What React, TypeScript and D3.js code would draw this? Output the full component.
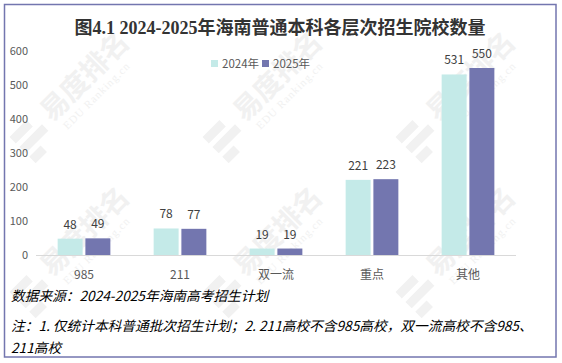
import * as d3 from 'd3';

// --- data ---
const categories = ['985', '211', '双一流', '重点', '其他'];
const series = ['2024年', '2025年'];
const values2024 = [48, 78, 19, 221, 531];
const values2025 = [49, 77, 19, 223, 550];
const yTicks = [0, 100, 200, 300, 400, 500, 600];

const W = 562;
const H = 363;
const colors = ['#c4eae8', '#7376af'];
const font = '"Noto Sans CJK SC", "Noto Sans", sans-serif';

// watermark anchor points (logo centres)
const marks = [
  [42, 130], [235, 130], [428, 130],
  [42, 285], [235, 285], [428, 285],
];

const Watermark = ({ x, y }: { x: number; y: number }) => (
  <g transform={`translate(${x},${y}) rotate(-45)`} fill="#f1f1f1">
    {/* "||" logo */}
    <rect x={-28} y={-18} width={24} height={9} />
    <rect x={-28} y={-4} width={32} height={9} />
    <rect x={-28} y={10} width={16} height={9} />
    <text x={12} y={2} fontSize={28} fontWeight={700} fontFamily={font}>易度排名</text>
    <text x={18} y={18} fontSize={11} fontFamily='"Liberation Serif", serif' letterSpacing={1}>EDU Ranking.cn</text>
  </g>
);

function App() {
  const x0 = d3.scaleBand<string>().domain(categories).range([36, 516]).paddingInner(0).paddingOuter(0);
  const x1 = d3.scaleBand<string>().domain(series).range([0, x0.bandwidth()]).paddingInner(0.1).paddingOuter(0.78);
  const y = d3.scaleLinear().domain([0, 600]).range([255, 51]);
  const data = [values2024, values2025];

  return (
    <svg width={W} height={H} style={{ position: 'absolute', left: 0, top: 0, background: '#fff' }}>
      <rect x={0} y={0} width={W} height={H} fill="#fff" />
      {marks.map(([mx, my], i) => <Watermark key={i} x={mx} y={my} />)}
      <rect x={4.5} y={4.5} width={551.5} height={352.5} fill="none" stroke="#7376af" strokeWidth={1.5} />

      <text x={280} y={34} textAnchor="middle" fontSize={18} fontWeight={700} fill="#333"
        fontFamily='"Liberation Serif", "Noto Sans CJK SC", serif'>图4.1 2024-2025年海南普通本科各层次招生院校数量</text>

      {/* legend */}
      {series.map((s, i) => (
        <g key={s} transform={`translate(${211 + i * 51},0)`}>
          <rect x={0} y={60} width={7} height={7} fill={colors[i]} />
          <text x={11} y={68} fontSize={11.5} fill="#595959" fontFamily={font}>{s}</text>
        </g>
      ))}

      {/* y axis labels */}
      {yTicks.map(t => (
        <text key={t} x={28} y={y(t) + 4} textAnchor="end" fontSize={11} fill="#595959" fontFamily={font}>{t}</text>
      ))}

      {/* bars */}
      {categories.map((c, ci) => (
        <g key={c} transform={`translate(${x0(c)},0)`}>
          {series.map((s, si) => {
            const v = data[si][ci];
            const bx = x1(s) as number;
            return (
              <g key={s}>
                <rect x={bx} y={y(v)} width={x1.bandwidth()} height={y(0) - y(v)} fill={colors[si]} />
                <text x={bx + x1.bandwidth() / 2} y={y(v) - 10} textAnchor="middle" fontSize={12} fill="#404040" fontFamily={font}>{v}</text>
              </g>
            );
          })}
          <text x={x0.bandwidth() / 2} y={279} textAnchor="middle" fontSize={12} fill="#595959" fontFamily={font}>{c}</text>
        </g>
      ))}
      <line x1={36} x2={516} y1={255.5} y2={255.5} stroke="#d9d9d9" strokeWidth={1} />

      {/* footnotes */}
      <g fontFamily={font} fontSize={13.7} fontStyle="italic" fill="#000">
        <text x={11} y={301}>数据来源：2024-2025年海南高考招生计划</text>
        <text x={11} y={331}>注：1. 仅统计本科普通批次招生计划；2. 211高校不含985高校，双一流高校不含985、</text>
        <text x={11} y={353}>211高校</text>
      </g>
    </svg>
  );
}

export default App;
